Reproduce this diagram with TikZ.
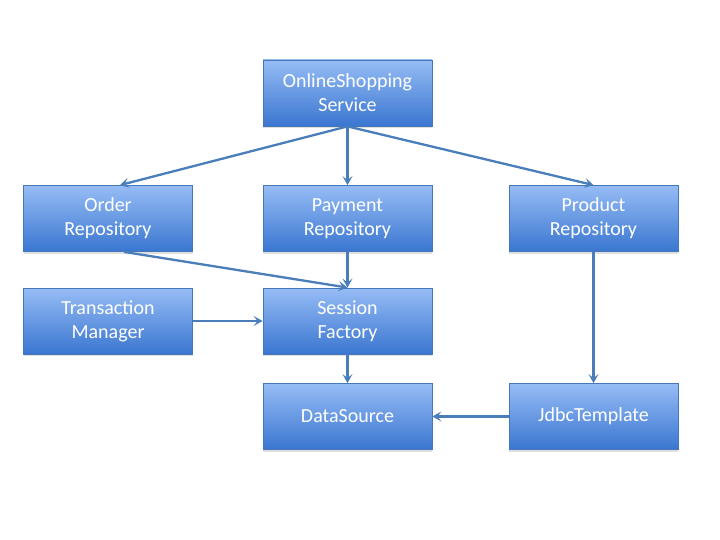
\documentclass[tikz,border=0pt]{standalone}
\usepackage{fontspec}
\setmainfont{Carlito}
\usetikzlibrary{arrows.meta,calc,shadows}
\definecolor{lineblue}{RGB}{74,126,187}
\definecolor{boxtop}{RGB}{150,188,245}
\definecolor{boxbot}{RGB}{58,118,208}
\definecolor{boxborder}{RGB}{70,120,185}
\begin{document}
\begin{tikzpicture}[x=1pt,y=-1pt,
  box/.style={draw=boxborder,line width=0.8pt,top color=boxtop,bottom color=boxbot,
    minimum width=169pt,minimum height=66pt,inner sep=0pt,align=center,
    text=white,font=\fontsize{20}{24}\selectfont,
    drop shadow={shadow xshift=0pt,shadow yshift=-2pt,opacity=0.25}},
  conn/.style={draw=lineblue,line width=2.3pt,-{Stealth[length=9pt,width=10pt,inset=4pt]}}]
\useasboundingbox (0,0) rectangle (720,540);
\node[box] (svc) at (347.5,93) {OnlineShopping\\Service};
\node[box] (order) at (108,218.5) {Order\\Repository};
\node[box] (pay) at (347.5,218.5) {Payment\\Repository};
\node[box] (prod) at (593.5,218.5) {Product\\Repository};
\node[box] (tx) at (108,321) {Transaction\\Manager};
\node[box] (sf) at (347.5,321) {Session\\Factory};
\node[box] (ds) at (347.5,416.5) {DataSource};
\node[box] (jdbc) at (593.5,416.5) {JdbcTemplate};
\draw[conn] (svc.south) -- ($(order.north)+(12,0)$);
\draw[conn] (svc.south) -- (pay.north);
\draw[conn] (svc.south) -- (prod.north);
\draw[conn] ($(order.south)+(16,0)$) -- (sf.north);
\draw[conn] (pay.south) -- (sf.north);
\draw[conn] (tx.east) -- (sf.west);
\draw[conn] (sf.south) -- (ds.north);
\draw[conn] (prod.south) -- (jdbc.north);
\draw[conn] (jdbc.west) -- (ds.east);
\end{tikzpicture}
\end{document}
